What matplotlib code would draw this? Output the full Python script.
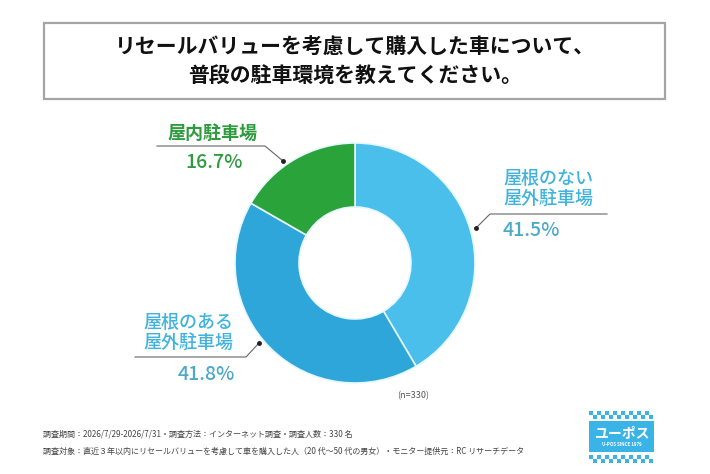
import matplotlib
matplotlib.use("Agg")
import matplotlib.pyplot as plt
from matplotlib.patches import Rectangle

plt.rcParams['font.family'] = ['Noto Sans CJK JP', 'DejaVu Sans']

# data
labels = ['屋根のない\n屋外駐車場', '屋根のある\n屋外駐車場', '屋内駐車場']
values = [41.5, 41.8, 16.7]
colors = ['#4BBFEB', '#2FA6D9', '#2BA33B']
title = 'リセールバリューを考慮して購入した車について、\n普段の駐車環境を教えてください。'
n_note = '(n=330)'
footer = ['調査期間：2026/7/29-2026/7/31・調査方法：インターネット調査・調査人数：330 名',
          '調査対象：直近３年以内にリセールバリューを考慮して車を購入した人（20 代～50 代の男女）・モニター提供元：RC リサーチデータ']

W, H = 710, 474
fig = plt.figure(figsize=(W / 100, H / 100), dpi=100)
ax = fig.add_axes([0, 0, 1, 1])


def Y(y):
    return H - y


cx, cy, r = 355, 263, 120
ax.pie(values, colors=colors, startangle=90, counterclock=False,
       center=(cx, Y(cy)), radius=r,
       wedgeprops=dict(width=r - 56, edgecolor='#E6F8FF', linewidth=1.2))
ax.set_xlim(0, W)
ax.set_ylim(0, H)
ax.set_aspect('auto')
ax.axis('off')

# title box
ax.add_patch(Rectangle((44, Y(99)), 621, 76, facecolor='white',
                       edgecolor='#a5a5a5', linewidth=1.6))
ax.text(355, Y(62), title, ha='center', va='center', fontsize=15,
        fontweight='bold', color='#111111', linespacing=1.45)

# labels and leader lines
green_txt = '#2E9B3F'
blue_txt = '#3FB3DD'
pct_blue = '#4DA9C9'
lc = '#666666'

# indoor
ax.text(167, Y(133), labels[2], ha='left', va='center', fontsize=13,
        fontweight='bold', color=green_txt)
ax.text(185, Y(162), f'{values[2]}%', ha='left', va='center', fontsize=14,
        fontweight='medium', color=green_txt)
ax.plot([157, 265, 283], [Y(146), Y(146), Y(161)], color=lc, lw=0.8)
ax.plot([283], [Y(161)], 'o', color='#222222', ms=2.5)

# no roof outdoor
ax.text(503, Y(189), labels[0], ha='left', va='center', fontsize=13,
        fontweight='medium', color=blue_txt, linespacing=1.15)
ax.text(503, Y(230), f'{values[0]}%', ha='left', va='center', fontsize=14,
        fontweight='medium', color=pct_blue)
ax.plot([476, 490, 607], [Y(228), Y(214), Y(214)], color=lc, lw=0.8)
ax.plot([476], [Y(228)], 'o', color='#222222', ms=2.5)

# roofed outdoor
ax.text(143, Y(333), labels[1], ha='left', va='center', fontsize=13,
        fontweight='medium', color=blue_txt, linespacing=1.15)
ax.text(178, Y(375), f'{values[1]}%', ha='left', va='center', fontsize=14,
        fontweight='medium', color=pct_blue)
ax.plot([259, 246, 135], [Y(343), Y(357), Y(357)], color=lc, lw=0.8)
ax.plot([259], [Y(343)], 'o', color='#222222', ms=2.5)

ax.text(413, Y(396), n_note, ha='center', va='center', fontsize=6.5,
        color='#555555')

# footer
ax.text(43, Y(434), footer[0], ha='left', va='center', fontsize=5.8,
        color='#444444')
ax.text(43, Y(451), footer[1], ha='left', va='center', fontsize=5.8,
        color='#444444')

# logo
logo_c = '#3AB4E6'
x0, x1 = 589, 654
sq = 4
for row, ytop in enumerate([411, 415, 455, 459]):
    off = (row % 2) * sq
    x = x0 + off
    while x + sq <= x1 + 0.5:
        ax.add_patch(Rectangle((x, Y(ytop + sq)), sq, sq, facecolor=logo_c,
                               edgecolor='none'))
        x += 2 * sq
ax.add_patch(Rectangle((x0, Y(452)), x1 - x0, 31, facecolor=logo_c,
                       edgecolor='none'))
ax.text((x0 + x1) / 2, Y(433), 'ユーポス', ha='center', va='center',
        fontsize=10, fontweight='bold', color='white')
ax.text((x0 + x1) / 2, Y(445), 'U-POS SINCE 1979', ha='center', va='center',
        fontsize=3.2, fontweight='bold', color='white')

fig.savefig('out.png', dpi=100, facecolor='white')
